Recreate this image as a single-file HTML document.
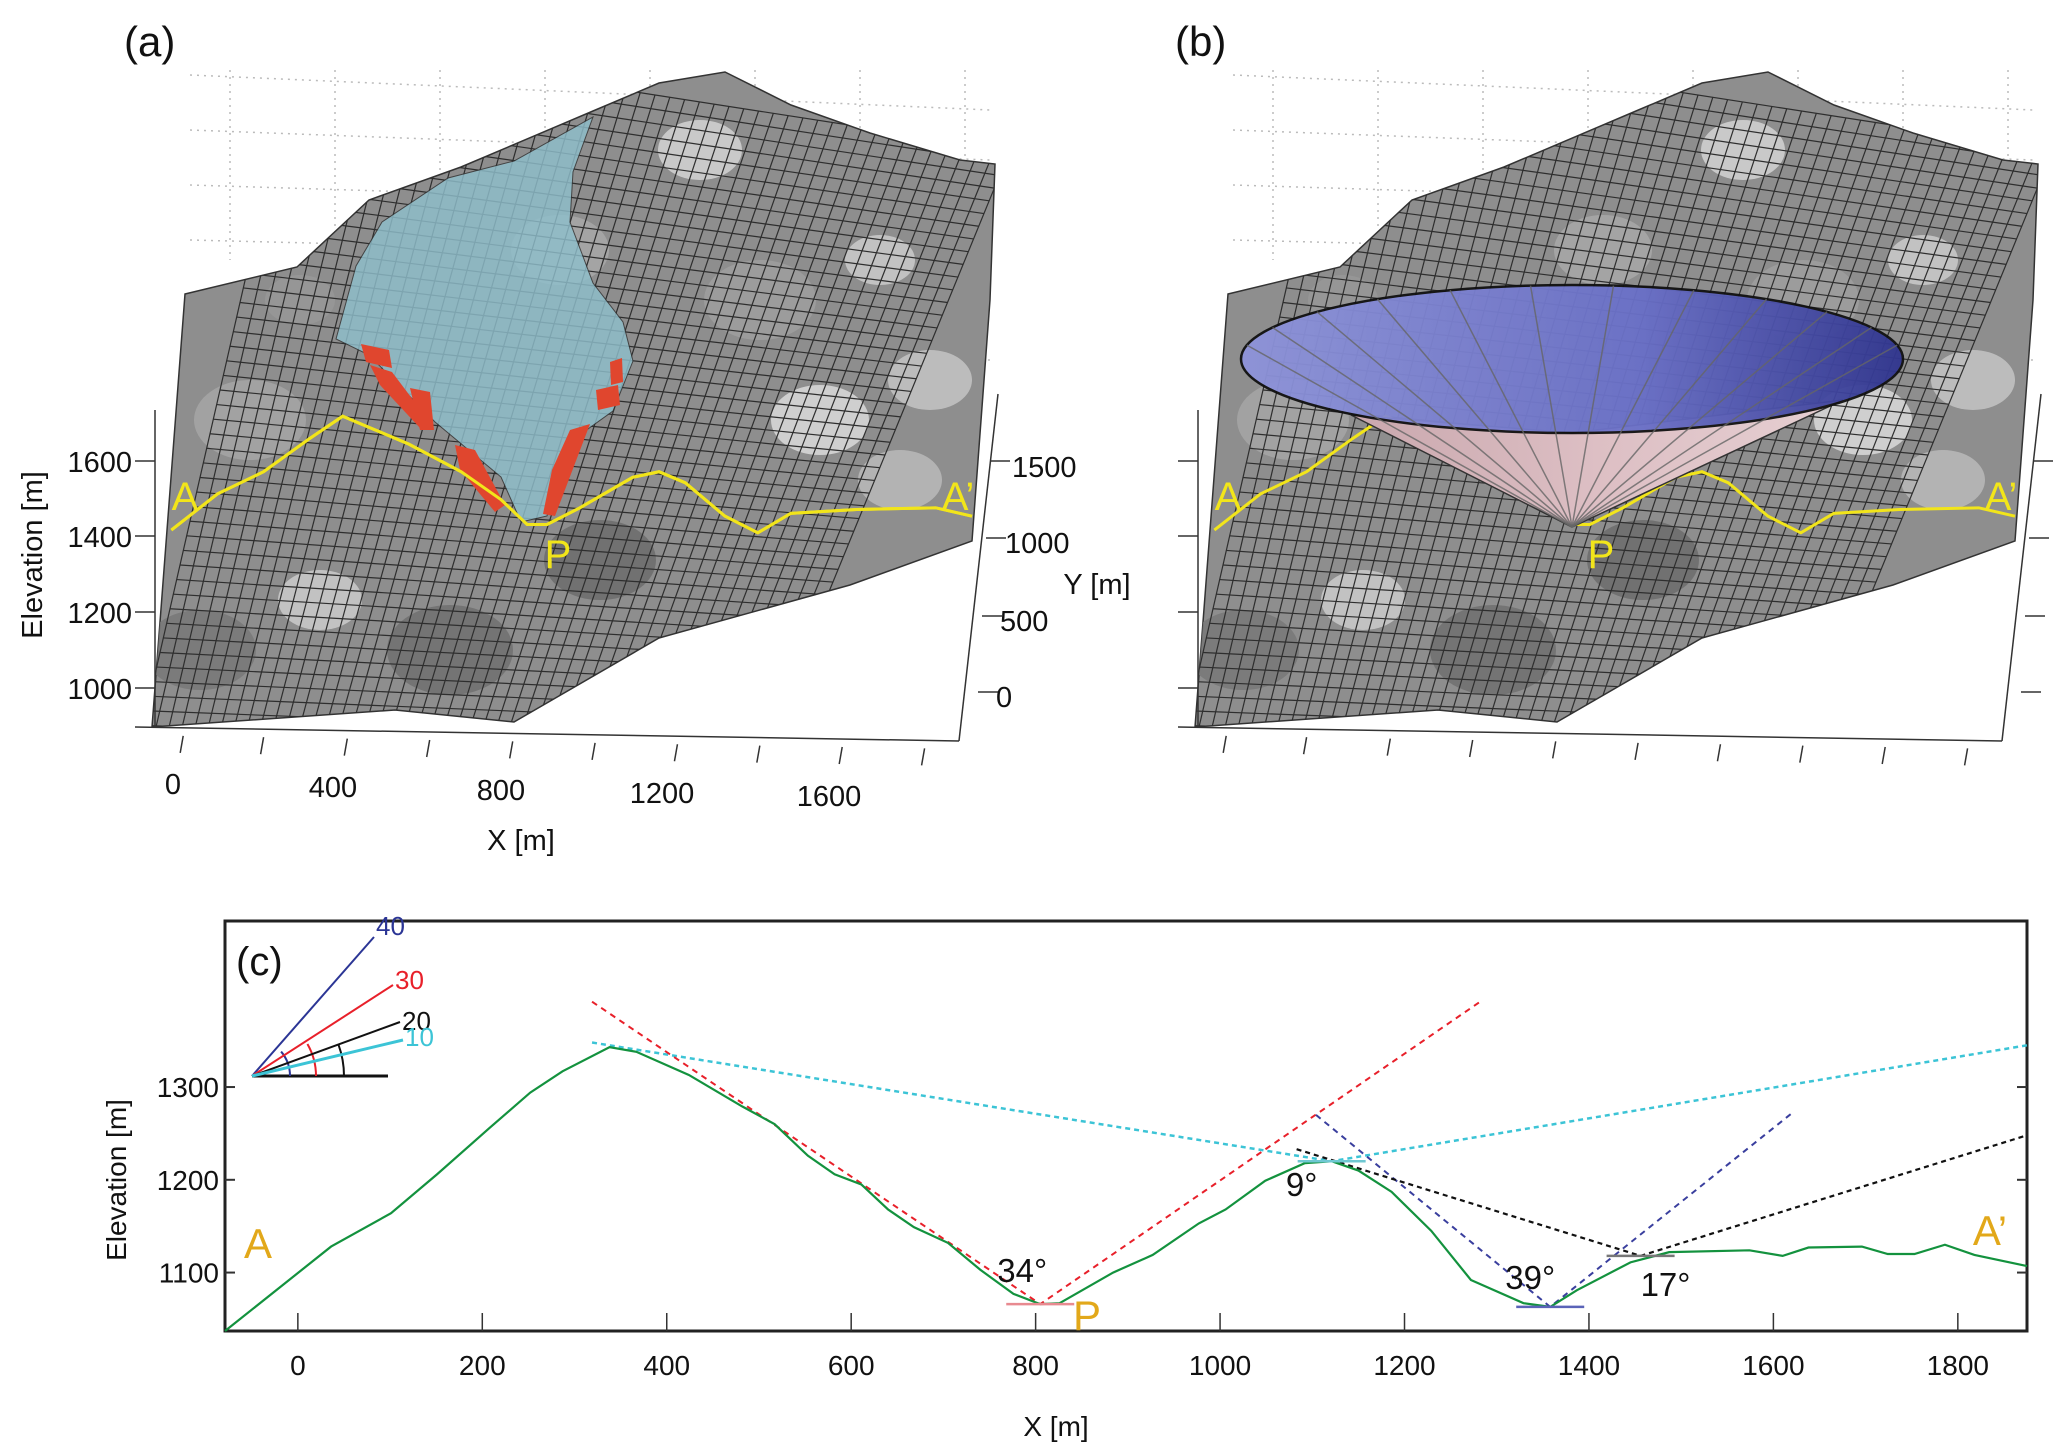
<!DOCTYPE html>
<html><head><meta charset="utf-8"><style>
html,body{margin:0;padding:0;background:#fff;}
svg{display:block;font-family:"Liberation Sans",sans-serif;}
</style></head><body>
<svg id="fig" width="2067" height="1454" viewBox="0 0 2067 1454" xmlns="http://www.w3.org/2000/svg">
<defs>
<linearGradient id="discGrad" x1="0" x2="1" y1="0" y2="0">
<stop offset="0" stop-color="#8e94da"/><stop offset="0.6" stop-color="#6a70c8"/><stop offset="1" stop-color="#30358f"/>
</linearGradient>
<linearGradient id="coneGrad" x1="0" x2="1" y1="0" y2="0">
<stop offset="0" stop-color="#c9a7ad"/><stop offset="0.5" stop-color="#ddbfc4"/><stop offset="1" stop-color="#e6cfd2"/>
</linearGradient>
</defs>
<g id="panelA"></g>
<g id="panelB"></g>
<g id="panelC"></g>
</svg>
<script>
// ===== Panel (c) data =====
const profileX = [-79,36,101,151,208,252,287,338,367,424,482,517,553,582,611,640,668,705,740,776,805,826,884,927,977,1006,1049,1092,1121,1150,1186,1229,1272,1329,1358,1387,1445,1487,1574,1610,1638,1696,1724,1753,1786,1818,1875];
const profileY = [1037,1128,1164,1206,1256,1294,1317,1343,1338,1313,1279,1260,1226,1206,1195,1168,1149,1132,1103,1077,1066,1067,1100,1119,1153,1168,1199,1218,1220,1210,1187,1145,1092,1067,1063,1081,1111,1122,1124,1118,1127,1128,1120,1120,1130,1119,1107];
const redLineX = [319,805,1282];
const redLineY = [1392,1066,1392];
const cyanLineX = [319,1121,1875];
const cyanLineY = [1348,1220,1345];
const blueLineX = [1104,1358,1619];
const blueLineY = [1270,1063,1271];
const blackLineX = [1083,1456,1875];
const blackLineY = [1233,1118,1248];
const xTicks = [0,200,400,600,800,1000,1200,1400,1600,1800];
const yTicks = [1100,1200,1300];
const angleLabels = ["34°","9°","39°","17°"];
const angleLabelX = [805,1121,1358,1456];
const angleLabelY = [1066,1220,1063,1118];

const NS="http://www.w3.org/2000/svg";
function mk(tag, attrs, parent, txt){const e=document.createElementNS(NS,tag);for(const k in attrs)e.setAttribute(k,attrs[k]);if(txt!==undefined)e.textContent=txt;parent.appendChild(e);return e;}

const X0=225,X1=2027,Y0=921,Y1=1331;
const xMin=-79,xMax=1875,yMin=1037,yMax=1479;
function sx(v){return X0+(v-xMin)/(xMax-xMin)*(X1-X0);}
function sy(v){return Y1-(v-yMin)/(yMax-yMin)*(Y1-Y0);}

const C=document.getElementById('panelC');
const frame=mk('rect',{x:X0,y:Y0,width:X1-X0,height:Y1-Y0,fill:'none',stroke:'#222','stroke-width':3},C);


xTicks.forEach(t=>{
 const l=mk('line',{x1:sx(t),x2:sx(t),y1:Y1,y2:Y1-18,stroke:'#333','stroke-width':1.5},C);
 
 
 const tx=mk('text',{x:sx(t),y:Y1+44,'font-size':28,'text-anchor':'middle',fill:'#111'},C,String(t));
 
 
});
yTicks.forEach(t=>{
 const l=mk('line',{x1:X0,x2:X0+10,y1:sy(t),y2:sy(t),stroke:'#333','stroke-width':2},C);
 
 
 const l2=mk('line',{x1:X1,x2:X1-10,y1:sy(t),y2:sy(t),stroke:'#333','stroke-width':2},C);
 
 
 const tx=mk('text',{x:X0-6,y:sy(t)+10,'font-size':28,'text-anchor':'end',fill:'#111'},C,String(t));
 
 
});
const xt=mk('text',{x:1056,y:1436,'font-size':28,'text-anchor':'middle',fill:'#111'},C,'X [m]');


const yt=mk('text',{x:0,y:0,'font-size':28,'text-anchor':'middle',fill:'#111',transform:'translate(126,1180) rotate(-90)'},C,'Elevation [m]');



function dashed(xs,ys,col,name,w,da){
 const p=mk('polyline',{points:xs.map((v,i)=>sx(v)+','+sy(ys[i])).join(' '),fill:'none',stroke:col,'stroke-width':w,'stroke-dasharray':da},C);
 
 
}
dashed(cyanLineX,cyanLineY,'#3cc4d6','cyan-10deg-line',2.5,'5 4');
dashed(redLineX,redLineY,'#e8202a','red-30deg-line',2,'6 5');
dashed(blueLineX,blueLineY,'#3a3f9e','blue-40deg-line',2,'6 5');
dashed(blackLineX,blackLineY,'#111','black-20deg-line',2.2,'5 4');
const prof=mk('polyline',{points:profileX.map((v,i)=>sx(v)+','+sy(profileY[i])).join(' '),fill:'none',stroke:'#13923e','stroke-width':2.2},C);


const baseCols=['#e88a90','#6fc8d2','#5a63b8','#777'];
angleLabelX.forEach((v,i)=>{
 const b=mk('line',{x1:sx(v)-34,x2:sx(v)+34,y1:sy(angleLabelY[i]),y2:sy(angleLabelY[i]),stroke:baseCols[i],'stroke-width':2.5},C);
 
 
});
const offs=[[-18,-22],[-30,35],[-20,-18],[0,40]];
angleLabels.forEach((s,i)=>{
 const t=mk('text',{x:sx(angleLabelX[i])+offs[i][0],y:sy(angleLabelY[i])+offs[i][1],'font-size':33,'text-anchor':i==3?'start':'middle',fill:'#111'},C,s);
 
 
});
[['A',258,1258,'point-a-label'],['A’',1990,1245,'point-a-prime-label'],['P',1087,1330,'point-p-label']].forEach(a=>{
 const t=mk('text',{x:a[1],y:a[2],'font-size':42,'text-anchor':'middle',fill:'#e2a81a'},C,a[0]);
 
 
});
const pc=mk('text',{x:236,y:975,'font-size':40,fill:'#111'},C,'(c)');


const legendCols=['#2b3595','#e8202a','#111','#3cc4d6'];
const legendTxt=['40','30','20','10'];
const legendEnd=[[374,937],[393,985],[400,1022],[403,1040]];
const lo=[252,1076];
mk('line',{x1:lo[0],x2:388,y1:lo[1],y2:lo[1],stroke:'#111','stroke-width':3},C);
legendEnd.forEach((e,i)=>{
 const l=mk('line',{x1:lo[0],y1:lo[1],x2:e[0],y2:e[1],stroke:legendCols[i],'stroke-width':i==3?3:2},C);
 
 
 const r=[[38,40],[64,30],[92,20],[0,10]][i][0];
 if(r){const a=[40,30,20][i]*Math.PI/180;
 const arc=mk('path',{d:`M${lo[0]+r},${lo[1]} A${r},${r} 0 0 0 ${lo[0]+r*Math.cos(a)},${lo[1]-r*Math.sin(a)}`,fill:'none',stroke:legendCols[i],'stroke-width':2},C);
 
 }
 const t=mk('text',{x:e[0]+2,y:e[1]+[-2,4,8,6][i],'font-size':26,fill:legendCols[i]},C,legendTxt[i]);
 
 
});

// ===== 3D panels (decorative terrain) =====
const sil=[[152,727],[185,294],[297,267],[369,200],[461,167],[593,111],[659,83],[725,72],[791,105],[870,133],[960,160],[995,164],[990,300],[972,541],[850,585],[659,638],[514,722],[395,710],[152,727]];
const yellow=[[260,955],[330,890],[400,850],[470,790],[520,750],[560,770],[620,800],[700,850],[760,900],[800,945],[830,945],[880,915],[960,860],[1000,850],[1040,870],[1100,930],[1150,960],[1200,925],[1300,918],[1420,915],[1475,930]].map(p=>[p[0]*0.659,p[1]*0.555]);
const blueReg=[[336,339],[356,266],[382,222],[448,178],[514,161],[593,117],[573,172],[570,222],[593,283],[623,322],[633,361],[613,411],[567,444],[547,516],[521,522],[501,477],[435,422],[369,355]];
const reds=[[[361,344],[389,350],[392,368],[366,362]],[[370,365],[392,372],[432,425],[420,428],[380,385]],[[410,388],[430,392],[434,430],[420,430]],[[455,445],[475,450],[505,505],[495,512],[460,470]],[[543,514],[555,516],[590,424],[570,430],[552,470]],[[596,390],[618,385],[620,405],[598,410]],[[610,362],[622,358],[623,382],[611,385]]];
function pts(a,dx){return a.map(p=>(p[0]+dx)+','+p[1]).join(' ');}
function terrain(g,dx,id){
 for(let i=0;i<6;i++){
  mk('line',{x1:190+dx,y1:75+i*55,x2:990+dx,y2:110+i*50,stroke:'#bbb','stroke-width':1.5,'stroke-dasharray':'2 5'},g);
 }
 for(let i=0;i<8;i++){
  mk('line',{x1:230+i*105+dx,y1:70,x2:230+i*105+dx,y2:260,stroke:'#bbb','stroke-width':1.5,'stroke-dasharray':'2 5'},g);
 }
 const cp=mk('clipPath',{id:'clip'+id},g);
 mk('polygon',{points:pts(sil,dx)},cp);
 const s=mk('polygon',{points:pts(sil,dx),fill:'#8e8e8e',stroke:'#333','stroke-width':1.5},g);
 
 
 const mesh=mk('g',{'clip-path':`url(#clip${id})`,stroke:'#2e2e2e','stroke-width':1.2,fill:'none'},g);
 const patches=[[700,150,30,'#d8d8d8'],[820,420,35,'#e0e0e0'],[320,600,30,'#d0d0d0'],[880,260,25,'#cfcfcf'],[600,560,40,'#6a6a6a'],[250,420,40,'#a8a8a8'],[760,300,40,'#a0a0a0'],[900,480,30,'#bdbdbd'],[450,650,45,'#6e6e6e'],[200,650,40,'#777'],[560,250,35,'#aaa'],[930,380,30,'#c8c8c8'],[300,300,25,'#999']];
 patches.forEach(p=>mk('ellipse',{cx:p[0]+dx,cy:p[1],rx:p[2]*1.4,ry:p[2],fill:p[3],stroke:'none',opacity:0.8},mesh));
 const LB=[140,740],RB=[760,760],RT=[1010,150],LT=[300,40];
 const N=48;
 for(let i=0;i<=N;i++){
  const t=i/N;
  const a=[LB[0]+(RB[0]-LB[0])*t,LB[1]+(RB[1]-LB[1])*t],b=[LT[0]+(RT[0]-LT[0])*t,LT[1]+(RT[1]-LT[1])*t];
  mk('line',{x1:a[0]+dx,y1:a[1],x2:b[0]+dx,y2:b[1]},mesh);
  const c=[LB[0]+(LT[0]-LB[0])*t,LB[1]+(LT[1]-LB[1])*t],d=[RB[0]+(RT[0]-RB[0])*t,RB[1]+(RT[1]-RB[1])*t];
  mk('line',{x1:c[0]+dx,y1:c[1],x2:d[0]+dx,y2:d[1]},mesh);
 }
 mk('line',{x1:135+dx,y1:727,x2:959+dx,y2:741,stroke:'#333','stroke-width':1.5},g);
 mk('line',{x1:959+dx,y1:741,x2:998+dx,y2:394,stroke:'#333','stroke-width':1.5},g);
 mk('line',{x1:155+dx,y1:727,x2:155+dx,y2:410,stroke:'#333','stroke-width':1.5},g);
 [278,400,527,652,778,903,1028,1153,1278,1403].forEach(z=>{const x=z*0.659+dx;mk('line',{x1:x,y1:735+(x-dx-135)*0.017,x2:x-3,y2:752+(x-dx-135)*0.017,stroke:'#333','stroke-width':1.5},g);});
 [461,536,612,688].forEach(y=>mk('line',{x1:135+dx,x2:155+dx,y1:y,y2:y,stroke:'#333','stroke-width':1.5},g));
 [466,543,621,697].forEach((y,i)=>mk('line',{x1:990-i*4+dx,x2:1010-i*4+dx,y1:y-5,y2:y-5,stroke:'#333','stroke-width':1.5},g));
 const yl=mk('polyline',{points:pts(yellow,dx),fill:'none',stroke:'#f2e51a','stroke-width':3},g);
 
 
 [['A',185,510],['A’',958,510],['P',558,568]].forEach(a=>{
  const t=mk('text',{x:a[1]+dx,y:a[2],'font-size':40,'text-anchor':'middle',fill:'#f2e51a'},g,a[0]);
  
  
 });
}
const A=document.getElementById('panelA');
terrain(A,0,'a');
const br=mk('polygon',{points:pts(blueReg,0),fill:'#8fbfcc',opacity:0.82,stroke:'#333','stroke-width':1},A);


reds.forEach(r=>{const p=mk('polygon',{points:pts(r,0),fill:'#e0462e'},A);
 
 });
mk('polyline',{points:pts(yellow,0),fill:'none',stroke:'#f2e51a','stroke-width':3},A);
[['1600',461],['1400',536],['1200',612],['1000',688]].forEach(a=>{
 const t=mk('text',{x:132,y:a[1]+11,'font-size':29,'text-anchor':'end',fill:'#111'},A,a[0]);
 
 
});
[['0',173],['400',333],['800',501],['1200',662],['1600',829]].forEach((a,i)=>{
 const t=mk('text',{x:a[1],y:794+i*3,'font-size':29,'text-anchor':'middle',fill:'#111'},A,a[0]);
 
 
});
[['1500',1012,477],['1000',1005,553],['500',1000,631],['0',996,707]].forEach(a=>{
 const t=mk('text',{x:a[1],y:a[2],'font-size':29,fill:'#111'},A,a[0]);
 
 
});
const ya=mk('text',{x:1097,y:594,'font-size':29,'text-anchor':'middle',fill:'#111'},A,'Y [m]');


const xa=mk('text',{x:521,y:850,'font-size':29,'text-anchor':'middle',fill:'#111'},A,'X [m]');


const za=mk('text',{x:0,y:0,'font-size':29,'text-anchor':'middle',fill:'#111',transform:'translate(42,555) rotate(-90)'},A,'Elevation [m]');


const la=mk('text',{x:124,y:56,'font-size':42,fill:'#111'},A,'(a)');



const B=document.getElementById('panelB');
terrain(B,1043,'b');
const cone=mk('polygon',{points:'1351,415 1572,527 1843,400 1572,433',fill:'url(#coneGrad)',stroke:'#333','stroke-width':1.5},B);


const disc=mk('ellipse',{cx:1572,cy:359,rx:331,ry:74,fill:'url(#discGrad)',stroke:'#111','stroke-width':2.5,opacity:0.95},B);


for(let k=0;k<12;k++){
 const a=Math.PI*(0.06+k*0.08);
 const ex=1572-331*Math.cos(a), ey=359-74*Math.sin(a);
 mk('line',{x1:1572,y1:527,x2:ex,y2:ey,stroke:'#666','stroke-width':1.5,opacity:0.8},B);
}
const lb=mk('text',{x:1175,y:56,'font-size':42,fill:'#111'},B,'(b)');


</script>
</body></html>
